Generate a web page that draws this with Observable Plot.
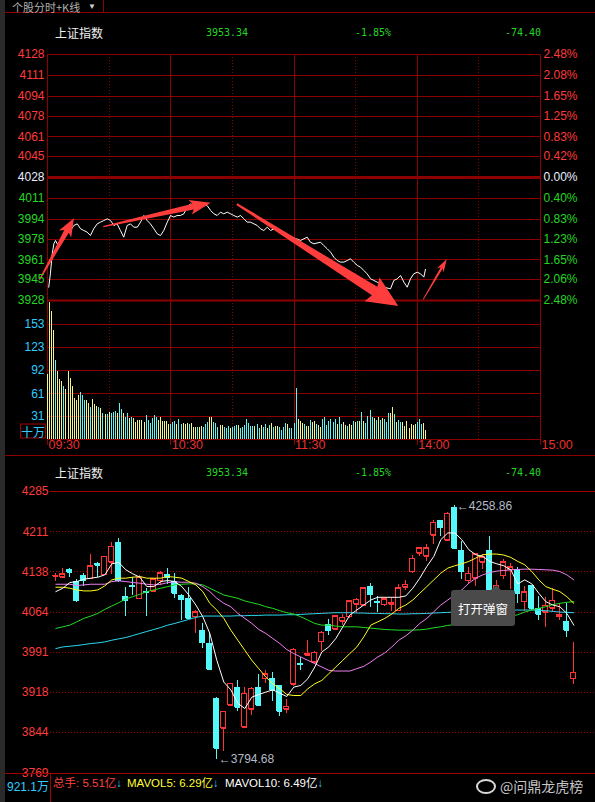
<!DOCTYPE html>
<html><head><meta charset="utf-8">
<script src="https://cdn.jsdelivr.net/npm/d3@7"></script>
<script src="https://cdn.jsdelivr.net/npm/@observablehq/plot@0.6"></script>
<style>
html,body{margin:0;padding:0;background:#000;}
#root{position:relative;width:595px;height:802px;background:#000;overflow:hidden;font-family:"Liberation Sans",Arial,"Noto Sans CJK SC",sans-serif;}
#root svg{position:absolute;left:0;top:0;}
.t{position:absolute;white-space:nowrap;line-height:1;transform:translateY(-50%);}
.ln{position:absolute;background:#8c0000;}
</style></head>
<body><div id="root"></div>
<script>
// ---------------- intraday (top) ----------------
const priceTicks = [4128,4111,4094,4078,4061,4045,4028,4011,3994,3978,3961,3945,3928];
const pctLabels = ["2.48%","2.08%","1.65%","1.25%","0.83%","0.42%","0.00%","0.40%","0.83%","1.23%","1.65%","2.06%","2.48%"];
const prevClose = 4028;
const volTicks = [153,123,92,61,31];
const timeTicks = [0,60,120,180,240];
const timeLabels = ["09:30","10:30","11:30","14:00","15:00"];
const halfHourTicks = [30,90,150,210];

const lineMinute = [0.6,1.4,2.3,3.1,3.9,4.7,6.3,7.9,9.6,11.2,12.8,14.5,16.1,17.7,19.3,20.9,22.5,24.2,25.8,27.4,29.1,30.7,32.3,33.9,35.5,37.1,38.8,40.4,42.0,43.7,45.3,46.9,48.5,50.1,51.8,53.4,55.0,56.6,58.3,59.9,61.5,63.1,64.7,66.4,68.0,69.6,71.2,72.9,74.5,76.1,77.7,79.4,81.0,82.6,84.2,85.8,87.5,89.1,90.7,92.4,94.0,95.6,97.2,98.8,100.5,102.1,103.7,105.3,107.0,108.6,110.2,113.5,118.3,123.2,126.4,128.0,129.7,132.9,134.5,136.2,137.8,139.4,141.0,142.6,144.3,145.9,147.5,149.1,150.8,152.4,154.0,155.6,157.3,158.9,160.5,162.1,163.7,167.0,168.6,170.2,171.9,173.5,175.1,176.7,178.3,180.0,181.6,183.2,184.0];
const linePrice = [3938.8,3949.7,3965.9,3974.1,3976.8,3974.1,3975.4,3978.1,3982.7,3984.9,3989.0,3990.3,3986.3,3984.9,3983.6,3980.8,3986.3,3990.3,3991.7,3993.0,3994.4,3993.0,3989.0,3990.3,3984.9,3979.5,3989.0,3990.3,3987.6,3987.6,3991.7,3997.1,3993.0,3990.3,3986.3,3982.2,3980.8,3984.9,3991.7,3997.1,3995.8,3997.1,3997.1,3998.5,4003.9,4006.6,4005.2,4007.9,4007.0,4006.6,4005.2,4001.2,3998.5,3997.1,3999.8,3998.5,3999.8,3998.5,3997.1,3995.8,3997.1,3994.4,3991.7,3991.7,3990.3,3989.0,3986.3,3984.9,3987.6,3984.9,3986.3,3983.3,3980.0,3976.8,3979.5,3975.4,3974.1,3975.4,3972.7,3970.0,3967.3,3963.2,3960.5,3959.2,3959.2,3960.5,3961.9,3959.2,3956.5,3955.1,3952.4,3949.7,3945.6,3944.3,3942.9,3941.5,3938.8,3937.5,3944.3,3945.6,3948.3,3942.9,3938.8,3945.6,3949.7,3951.0,3949.7,3947.0,3953.3];

// per-minute volume (十万), minute = index
const volume = [
86.7,183,170.7,145,105,90.7,80,77.3,70.7,66.7,
90.7,80.9,70.7,55.1,52,58.2,62.2,58.7,52,52,
47.6,43.1,52.9,46.2,44,43.1,40.9,34.2,32.9,32.9,
35.6,34.2,35.6,37.3,34.2,47.6,40,34.2,29.8,34.2,
27.6,29.8,27.6,23.1,25.3,25.3,25.3,23.1,32,25.3,
20.9,27.6,32,29.8,25.3,29.8,24,24,24,20,
20,23.1,24,20,
26.2,20,20.9,20,21.8,20,20.9,16.4,16.4,16.4,
16.4,17.3,16.4,20,23.1,28.9,28.9,23.1,20.9,16.4,
18.7,18.7,16.4,15.1,17.3,15.1,16.4,17.3,18.7,18.7,
15.1,16.4,18.7,26.2,21.8,
17.3,17.3,17.3,20,15.1,18.7,16.4,20,15.1,18.7,
21.8,16.4,17.3,17.3,16.4,12,15.6,20.9,20,14.2,
14.2,20.9,
67.6,26.7,24,20.9,19.6,17.3,17.3,25.3,23.1,24,
20,18.7,16.4,26.7,28.9,18.7,24,26.7,23.1,26.7,
19.6,29.8,19.6,23.1,18.7,17.3,20,18.7,24.4,22.2,
24.4,24.4,36,24,21.8,30.7,38.7,29.8,27.6,25.3,
28.9,25.3,28.4,26.7,23.1,34.2,34.7,42.7,33.3,23.1,
25.3,23.1,22.2,17.3,24,14.2,20,18.7,20,23.1,
26.7,20,21.3,12];
const volDir = "uuuuduuudu"+"uuuuuudddu"+"uduuududud"+"uddduddudd"+"uduuuuuudd"+"dddduuuuuu"+"dddu"+"dduuuduuud"+"uuddduuddd"+"uudddudddu"+"ddddd"+"ddudduddud"+"uduuddddud"+"dd"+"duuuduuduu"+"duuddddddd"+"udduuduudu"+"dududdddud"+"ududdduudu"+"dduuuuuuud"+"dduu";

// hand-drawn annotation arrows (minute, price)
const arrowFromMin = [-3.7, 27.4, 92.4, 183.2];
const arrowFromPrice = [3944.3, 3987.6, 4006.0, 3928.6];
const arrowToMin = [13.1, 79.7, 171.0, 194.6];
const arrowToPrice = [3994.4, 4007.1, 3923.1, 3961.1];

// ---------------- daily K line (bottom) ----------------
const kTicks = [4285,4211,4138,4064,3991,3918,3844,3769];
const candleOpen = [4130.2,4128.2,4140.5,4119.0,4130.7,4125.7,4152.7,4132.5,4155.2,4191.4,4091.4,4112.9,4089.0,4101.8,4102.4,4122.1,4133.1,4119.6,4093.9,4088.3,4055.8,4029.5,4005.5,3906.2,3851.6,3893.9,3925.8,3853.4,3886.6,3925.8,3942.4,3942.4,3928.3,3886.6,3932.0,3970.0,3985.3,3973.0,4009.8,4040.5,4032.5,4047.9,4055.8,4078.5,4077.3,4111.0,4082.8,4077.9,4079.1,4066.9,4109.8,4138.6,4172.4,4166.2,4204.9,4230.6,4195.7,4255.0,4176.7,4122.1,4126.4,4155.2,4176.7,4100.0,4130.7,4141.7,4141.7,4083.4,4112.3,4069.3,4063.8,4071.2,4055.8,4045.4,3942.4];
const candleClose = [4131.0,4133.7,4137.4,4085.3,4121.5,4148.4,4149.7,4165.6,4184.0,4122.0,4085.3,4111.0,4127.0,4100.0,4124.5,4135.6,4128.2,4098.8,4087.1,4053.4,4063.8,4008.0,3959.5,3814.8,3882.3,3933.2,3890.2,3914.8,3924.0,3893.9,3950.4,3920.9,3882.9,3891.5,3995.7,3968.1,3987.1,3990.2,4027.0,4030.1,4057.1,4054.0,4084.0,4086.5,4108.0,4095.7,4081.6,4087.7,4080.4,4108.0,4114.1,4161.9,4181.6,4181.6,4227.6,4218.4,4244.7,4181.6,4138.6,4134.3,4170.5,4164.4,4080.0,4112.3,4155.2,4146.6,4097.5,4100.6,4071.2,4060.1,4076.1,4085.3,4058.3,4031.3,3953.34];
const candleHigh = [4135.6,4144.8,4143.5,4124.5,4134.3,4169.3,4155.2,4166.8,4192.0,4198.7,4109.2,4128.2,4130.7,4108.0,4126.4,4138.0,4143.5,4135.6,4096.9,4109.8,4067.5,4043.6,4027.0,3908.6,3882.3,3934.4,3939.3,3925.8,3925.8,3950.4,3957.7,3954.0,3930.1,3904.9,3997.0,3981.0,4012.9,3991.4,4028.2,4051.5,4058.3,4060.7,4085.3,4089.6,4109.2,4115.9,4092.6,4091.4,4091.4,4114.1,4122.1,4168.1,4182.8,4188.9,4232.5,4231.9,4247.2,4258.86,4193.8,4146.6,4172.4,4169.3,4203.0,4122.1,4160.1,4152.7,4146.6,4111.0,4113.5,4092.6,4091.4,4108.0,4080.4,4080.4,4009.2];
const candleLow = [4120.2,4125.7,4128.2,4081.6,4111.0,4124.5,4128.2,4130.7,4132.5,4118.4,4057.1,4093.9,4087.7,4055.8,4101.8,4113.5,4114.7,4089.0,4049.7,4052.2,4025.2,3997.0,3958.3,3794.68,3808.7,3892.7,3882.9,3853.4,3875.5,3892.7,3933.2,3901.3,3873.7,3878.0,3928.3,3957.7,3982.2,3970.0,3991.4,4022.1,4031.3,4040.5,4052.8,4062.0,4076.1,4073.0,4063.2,4074.2,4065.0,4065.0,4103.7,4134.3,4166.2,4157.0,4188.9,4203.0,4195.1,4180.3,4123.3,4114.1,4111.0,4141.7,4070.0,4090.0,4123.3,4104.9,4080.4,4065.0,4068.1,4049.7,4036.2,4063.2,4049.7,4017.2,3931.3];
const ma5 = [4101.8,4108.0,4118.4,4120.2,4124.5,4126.4,4128.2,4132.5,4152.7,4155.2,4141.7,4134.3,4128.2,4111.0,4111.0,4120.2,4122.1,4120.2,4111.0,4095.7,4077.3,4055.8,4025.2,3976.1,3936.3,3922.1,3897.6,3887.8,3908.7,3913.6,3917.9,3922.1,3916.0,3909.9,3927.1,3930.1,3942.4,3963.9,3991.4,4000.6,4016.0,4037.4,4058.9,4068.1,4077.3,4086.5,4091.4,4091.4,4091.4,4091.4,4093.9,4108.0,4126.4,4147.8,4166.2,4196.9,4209.2,4209.2,4196.9,4178.5,4169.3,4166.2,4157.0,4152.7,4149.1,4141.7,4116.0,4123.3,4116.0,4098.8,4083.4,4077.3,4074.2,4062.0,4040.5];
const ma10 = [4109.8,4109.8,4108.0,4104.9,4103.1,4103.1,4104.9,4112.3,4123.3,4126.4,4126.4,4128.2,4129.4,4126.4,4126.4,4126.4,4129.4,4128.2,4126.4,4120.2,4114.1,4101.8,4080.4,4068.1,4052.8,4031.3,4012.9,3994.5,3976.1,3960.8,3945.5,3933.2,3924.0,3913.6,3911.7,3911.7,3924.0,3933.2,3939.3,3951.6,3963.9,3976.1,3988.4,4000.6,4019.0,4040.5,4046.6,4052.8,4060.8,4071.2,4077.3,4086.5,4098.8,4111.0,4123.3,4135.6,4144.8,4149.1,4152.7,4157.0,4163.2,4169.3,4170.5,4170.5,4168.7,4164.4,4157.0,4150.9,4138.6,4123.3,4111.0,4106.1,4101.8,4092.6,4080.4];
const ma20 = [4115.3,4115.3,4115.3,4112.9,4114.1,4115.3,4115.3,4115.3,4120.2,4121.5,4120.2,4118.4,4117.2,4115.3,4114.1,4115.3,4118.4,4119.6,4119.0,4119.0,4117.2,4111.0,4101.8,4089.6,4080.4,4074.2,4062.0,4052.8,4043.6,4032.5,4025.2,4016.0,4006.8,3995.7,3988.4,3982.2,3976.1,3970.0,3963.9,3957.7,3956.5,3956.5,3956.5,3960.8,3965.1,3973.1,3982.2,3989.6,4000.6,4012.9,4020.9,4031.3,4043.6,4052.8,4065.0,4077.3,4086.5,4095.7,4104.9,4117.2,4126.4,4132.5,4136.8,4139.3,4140.5,4141.7,4142.3,4142.9,4142.9,4142.3,4141.7,4141.1,4138.6,4132.5,4123.3];
const ma30 = [4034.4,4037.4,4040.5,4046.6,4052.8,4057.1,4062.0,4069.3,4075.5,4081.6,4088.4,4092.6,4096.9,4101.8,4104.9,4108.0,4111.0,4114.1,4115.3,4116.0,4116.0,4114.1,4108.0,4101.8,4095.7,4092.6,4089.6,4084.7,4081.6,4078.5,4074.2,4071.2,4066.9,4063.2,4060.8,4055.8,4049.7,4043.6,4040.5,4040.5,4038.7,4037.4,4037.4,4037.4,4036.2,4035.0,4033.8,4032.5,4031.9,4031.3,4031.3,4031.3,4031.9,4033.2,4035.6,4037.4,4039.9,4041.7,4043.6,4044.8,4046.6,4048.5,4050.9,4052.8,4054.6,4057.1,4059.5,4064.4,4068.1,4071.2,4074.2,4077.9,4080.4,4082.2,4083.4];
const ma60 = [3997.6,4000.6,4001.9,4003.1,4004.9,4006.8,4008.0,4009.8,4012.9,4015.4,4017.8,4021.5,4025.2,4028.9,4032.5,4036.2,4040.5,4043.6,4047.3,4050.9,4054.6,4057.1,4057.1,4057.1,4057.1,4057.1,4057.7,4057.7,4058.3,4058.3,4058.9,4058.9,4058.9,4059.5,4059.5,4060.1,4060.8,4061.4,4062.0,4062.6,4063.2,4063.2,4063.2,4062.6,4062.6,4062.0,4062.0,4061.4,4061.4,4060.8,4060.8,4061.4,4061.4,4062.0,4062.6,4063.2,4063.8,4064.4,4065.0,4065.7,4066.3,4066.9,4067.5,4068.1,4068.1,4068.1,4068.1,4068.1,4068.1,4067.5,4066.9,4065.7,4064.4,4063.8,4063.2];
const highMarkIdx = 57, lowMarkIdx = 23;

// ---------------- styles ----------------
const W = 595, H = 802;
const FONT = '"Liberation Sans", Arial, "Noto Sans CJK SC", sans-serif';
const gridRed = "#8c0000";
const txtRed = "#ff3b3b", txtGreen = "#25d625", txtWhite = "#e8eeff", txtCyan = "#33ccff";
const volUp = "#f4f48c", volDn = "#5ef4f4";
const kUp = "#ff3434", kDn = "#54f8f8";
const arrowStyle = [{wt:0.6,wb:2.6,hw:7,hl:15},{wt:0.6,wb:3,hw:7.5,hl:18},{wt:1,wb:5,hw:14,hl:28},{wt:0.4,wb:1.2,hw:4,hl:10}];
const common = {width: W, height: H, color: {type: "identity"},
  style: {background: "transparent", overflow: "visible", fontFamily: FONT, fontSize: "12px", color: "#fff"}};
const root = document.getElementById("root");
const sideColor = d => d > prevClose ? txtRed : d < prevClose ? txtGreen : txtWhite;

function arrowMark(index, scales) {
  const ns = "http://www.w3.org/2000/svg";
  const g = document.createElementNS(ns, "g");
  arrowFromMin.forEach((m, k) => {
    const x1 = scales.x(m), y1 = scales.y(arrowFromPrice[k]);
    const x2 = scales.x(arrowToMin[k]), y2 = scales.y(arrowToPrice[k]);
    const s = arrowStyle[k];
    const dx = x2 - x1, dy = y2 - y1, L = Math.hypot(dx, dy);
    const ux = dx / L, uy = dy / L, nx = -uy, ny = ux;
    const bx = x2 - ux * s.hl, by = y2 - uy * s.hl;
    const pts = [[x1+nx*s.wt, y1+ny*s.wt],[bx+nx*s.wb, by+ny*s.wb],[bx-ux*3+nx*s.hw, by-uy*3+ny*s.hw],[x2, y2],
                 [bx-ux*3-nx*s.hw, by-uy*3-ny*s.hw],[bx-nx*s.wb, by-ny*s.wb],[x1-nx*s.wt, y1-ny*s.wt]];
    const p = document.createElementNS(ns, "polygon");
    p.setAttribute("points", pts.map(q => q[0].toFixed(1) + "," + q[1].toFixed(1)).join(" "));
    p.setAttribute("fill", "#ff3d3d");
    g.appendChild(p);
  });
  return g;
}

// price panel
const pricePlot = Plot.plot({...common,
  marginTop: 54, marginBottom: H - 300, marginLeft: 47, marginRight: 55,
  x: {domain: [0, 240], axis: null}, y: {domain: [3928, 4128], axis: null},
  marks: [
    Plot.ruleY(priceTicks, {stroke: gridRed, shapeRendering: "crispEdges"}),
    Plot.ruleY([prevClose], {stroke: gridRed, strokeWidth: 3}),
    Plot.ruleY([priceTicks[priceTicks.length - 1]], {stroke: gridRed, strokeWidth: 2}),
    Plot.ruleX(timeTicks, {stroke: gridRed, shapeRendering: "crispEdges"}),
    Plot.ruleX(halfHourTicks, {stroke: gridRed, strokeDasharray: "1,2", shapeRendering: "crispEdges"}),
    Plot.line(lineMinute.map((m, i) => ({m, p: linePrice[i]})), {x: "m", y: "p", stroke: "#fff", strokeWidth: 1}),
    arrowMark,
    Plot.text(priceTicks, {y: d => d, text: d => String(d), frameAnchor: "left", textAnchor: "end", dx: -3, fill: sideColor, fontSize: 12}),
    Plot.text(priceTicks, {y: d => d, text: (d, i) => pctLabels[i], frameAnchor: "right", textAnchor: "start", dx: 3, fill: sideColor, fontSize: 12})
  ]});
root.appendChild(pricePlot);

// volume panel
const volPlot = Plot.plot({...common,
  marginTop: 300, marginBottom: H - 439, marginLeft: 47, marginRight: 55,
  x: {domain: [0, 240], axis: null}, y: {domain: [0, 185], axis: null},
  marks: [
    Plot.ruleY(volTicks, {stroke: gridRed, shapeRendering: "crispEdges"}),
    Plot.ruleY([0], {stroke: gridRed, shapeRendering: "crispEdges"}),
    Plot.ruleX(timeTicks, {stroke: gridRed, insetBottom: -6, shapeRendering: "crispEdges"}),
    Plot.ruleX(halfHourTicks, {stroke: gridRed, strokeDasharray: "1,2", shapeRendering: "crispEdges"}),
    Plot.ruleX(volume, {x: (d, i) => i, y: d => d, stroke: (d, i) => volDir[i] === "u" ? volUp : volDn, shapeRendering: "crispEdges"}),
    Plot.text(volTicks, {y: d => d, text: d => String(d), frameAnchor: "left", textAnchor: "end", dx: -3, fill: txtCyan, fontSize: 12}),
    Plot.text(timeTicks, {x: d => d, text: (d, i) => timeLabels[i], frameAnchor: "bottom", dy: 9, dx: 1, textAnchor: "start", fill: "#e83030", fontSize: 12.5})
  ]});
root.appendChild(volPlot);

// K-line panel
const idx = d3.range(candleOpen.length);
const isUp = i => candleClose[i] >= candleOpen[i];
const kPlot = Plot.plot({...common,
  marginTop: 491, marginBottom: H - 773, marginLeft: 50, marginRight: 0,
  x: {domain: [-0.762, 77.1], axis: null}, y: {domain: [3769, 4285], axis: null},
  marks: [
    Plot.ruleY(kTicks.slice(1, -1), {stroke: "#a00000", strokeDasharray: "1,2", shapeRendering: "crispEdges"}),
    Plot.ruleY([kTicks[0]], {stroke: "#a00000", shapeRendering: "crispEdges"}),
    Plot.ruleX(idx, {x: i => i, y1: i => candleLow[i], y2: i => candleHigh[i], stroke: i => isUp(i) ? kUp : kDn, shapeRendering: "crispEdges"}),
    Plot.rect(idx, {x1: i => i - 0.36, x2: i => i + 0.36, y1: i => candleOpen[i], y2: i => candleClose[i],
      fill: i => isUp(i) ? "#000" : kDn, stroke: i => isUp(i) ? kUp : kDn, shapeRendering: "crispEdges"}),
    Plot.ruleY(idx, {y: i => candleClose[i], x1: i => i - 0.36, x2: i => i + 0.36, stroke: i => isUp(i) ? kUp : kDn, shapeRendering: "crispEdges"}),
    Plot.ruleY(idx, {y: i => candleOpen[i], x1: i => i - 0.36, x2: i => i + 0.36, stroke: i => isUp(i) ? kUp : kDn, shapeRendering: "crispEdges"}),
    Plot.lineY(ma60, {x: (d, i) => i, stroke: "#2ad8ee", strokeWidth: 1}),
    Plot.lineY(ma30, {x: (d, i) => i, stroke: "#22dd22", strokeWidth: 1}),
    Plot.lineY(ma20, {x: (d, i) => i, stroke: "#f080f0", strokeWidth: 1}),
    Plot.lineY(ma10, {x: (d, i) => i, stroke: "#ffff22", strokeWidth: 1}),
    Plot.lineY(ma5, {x: (d, i) => i, stroke: "#ffffff", strokeWidth: 1}),
    Plot.text([highMarkIdx], {x: i => i, y: i => candleHigh[i], text: i => "\u2190" + candleHigh[i].toFixed(2), textAnchor: "start", dx: 2, fill: "#b4bac6", fontSize: 12}),
    Plot.text([lowMarkIdx], {x: i => i, y: i => candleLow[i], text: i => "\u2190" + candleLow[i].toFixed(2), textAnchor: "start", dx: 2, fill: "#b4bac6", fontSize: 12}),
    Plot.text(kTicks, {y: d => d, text: d => String(d), frameAnchor: "left", textAnchor: "end", dx: -2, fill: txtRed, fontSize: 12})
  ]});
root.appendChild(kPlot);

// ---------------- frame lines & text ----------------
function line(l, t, w, h, c) { const d = document.createElement("div"); d.className = "ln"; Object.assign(d.style, {left: l + "px", top: t + "px", width: w + "px", height: h + "px"}); if (c) d.style.background = c; root.appendChild(d); return d; }
function txt(s, l, t, color, size, fam, extra) { const d = document.createElement("div"); d.className = "t"; d.textContent = s; Object.assign(d.style, {left: l + "px", top: t + "px", color, fontSize: size + "px"}); if (fam) d.style.fontFamily = fam; if (extra) Object.assign(d.style, extra); root.appendChild(d); return d; }

line(0, 0, 5, 802, "#2a2a2a");
line(5, 12, 590, 1);
line(103, 0, 1, 12);
line(5, 455, 590, 1);
line(5, 773, 590, 1, "#a00000");
line(50, 773, 1, 29, "#a00000");

const CJK = '"Noto Sans CJK SC", sans-serif';
const MONO = '"DejaVu Sans Mono", "Liberation Mono", monospace';
txt("个股分时+K线", 12, 7, "#b0b0b0", 11, CJK);
txt("▼", 88, 7, "#d0d0d0", 8, FONT);

for (const yy of [33, 473]) {
  txt("上证指数", 55, yy, "#f0f0f0", 12, CJK);
  txt("3953.34", 206, yy, txtGreen, 10, MONO);
  txt("-1.85%", 355, yy, txtGreen, 10, MONO);
  txt("-74.40", 505, yy, txtGreen, 10, MONO);
}

// 十万 unit box
txt("十万", 20, 431, txtCyan, 12, CJK, {border: "1px solid #a00000", width: "24px", height: "13px", textAlign: "center", lineHeight: "13px", boxSizing: "content-box"});

// bottom info row
const row = document.createElement("div");
row.className = "t";
Object.assign(row.style, {left: "53px", top: "784px", fontSize: "11.5px"});
row.innerHTML = '<span style="color:#ff4040">总手: 5.51亿</span><span style="color:#33ccff">↓</span>';
root.appendChild(row);
const row2 = row.cloneNode(); row2.style.left = "127px";
row2.innerHTML = '<span style="color:#ffff33">MAVOL5: 6.29亿</span><span style="color:#33ccff">↓</span>';
root.appendChild(row2);
const row3 = row.cloneNode(); row3.style.left = "225px";
row3.innerHTML = '<span style="color:#ffffff">MAVOL10: 6.49亿</span><span style="color:#33ccff">↓</span>';
root.appendChild(row3);
txt("921.1万", 7, 787, txtCyan, 12, FONT);

// watermark
const eye = document.createElement("div");
Object.assign(eye.style, {position: "absolute", left: "476px", top: "779px", width: "16px", height: "11px", border: "2px solid #d8d8d8", borderRadius: "50%"});
root.appendChild(eye);
txt("@问鼎龙虎榜", 500, 786, "rgba(235,235,235,0.85)", 14, CJK, {textShadow: "0 0 2px #000"});

// popup tooltip
const tip = document.createElement("div");
Object.assign(tip.style, {position: "absolute", left: "451px", top: "590px", width: "64px", height: "36px", background: "#4a4a4a", borderRadius: "3px",
  color: "#fff", fontSize: "12.5px", fontFamily: CJK, display: "flex", alignItems: "center", justifyContent: "center"});
tip.textContent = "打开弹窗";
root.appendChild(tip);
const tri = document.createElement("div");
Object.assign(tri.style, {position: "absolute", left: "491px", top: "585px", width: "0", height: "0", borderLeft: "5px solid transparent", borderRight: "5px solid transparent", borderBottom: "5px solid #4a4a4a"});
root.appendChild(tri);
</script>
</body></html>
